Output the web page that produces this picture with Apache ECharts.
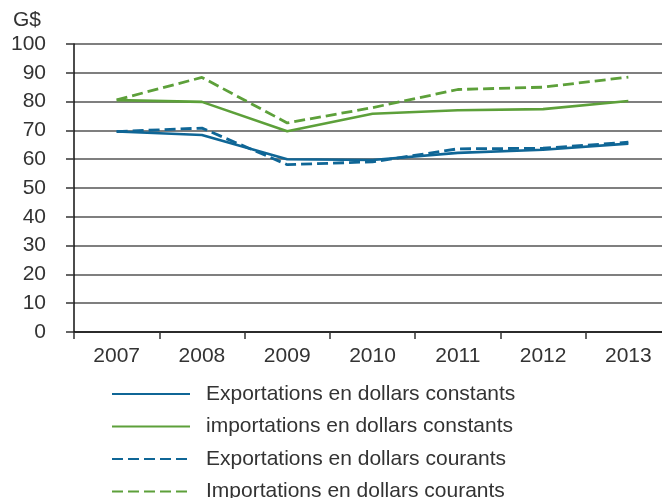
<!DOCTYPE html>
<html><head><meta charset="utf-8">
<script src="https://cdn.jsdelivr.net/npm/echarts@6/dist/echarts.min.js"></script>
<style>html,body{margin:0;padding:0;background:#fff}#c{width:662px;height:498px}</style>
</head><body><div id="c"></div>
<script>
const years = ['2007','2008','2009','2010','2011','2012','2013'];
const exportsConstant = [69.6, 68.4, 60.0, 59.7, 62.2, 63.3, 65.4];
const importsConstant = [80.5, 79.9, 69.7, 75.8, 77.0, 77.4, 80.2];
const exportsCurrent = [69.6, 70.8, 58.1, 59.1, 63.6, 63.8, 65.9];
const importsCurrent = [80.6, 88.4, 72.6, 77.9, 84.2, 85.0, 88.5];
const yTicks = [0,10,20,30,40,50,60,70,80,90,100];
const seriesNames = ['Exportations en dollars constants','importations en dollars constants','Exportations en dollars courants','Importations en dollars courants'];

const BLUE = '#0f6696', GREEN = '#5da03a';
const font = '"Liberation Sans", Arial, sans-serif';
const chart = echarts.init(document.getElementById('c'), null, {renderer:'canvas'});
function mk(name, data, color, dashed){
  return {name, type:'line', data, symbol:'none', animation:false,
    lineStyle:{color, width: dashed ? 2.8 : 2.6, type: dashed ? [11,5] : 'solid'},
    itemStyle:{color}};
}
chart.setOption({
  animation:false,
  textStyle:{fontFamily:font},
  grid:{left:74, top:44, height:288, width:597, outerBoundsMode:'none', containLabel:false},
  graphic:[{type:'text', left:13, top:10, style:{text:'G$', font:'21px '+font, fill:'#333'}}],
  legend:{orient:'vertical', left:111, top:383, height:160, padding:0,
    itemWidth:78, itemHeight:14, itemGap:10.5,
    itemStyle:{opacity:0},
    textStyle:{fontSize:21, lineHeight:22, color:'#333', fontFamily:font, padding:[0,0,0,11]},
    data:seriesNames},
  xAxis:{type:'category', data:years, boundaryGap:true,
    axisLine:{lineStyle:{color:'#111', width:1.5}},
    axisTick:{show:true, length:7, interval:0, lineStyle:{color:'#333', width:1.5}},
    axisLabel:{fontSize:21, color:'#333', margin:14, interval:0}},
  yAxis:{type:'value', min:yTicks[0], max:yTicks[yTicks.length-1], interval:10,
    axisLine:{show:true, lineStyle:{color:'#111', width:1.5}},
    axisTick:{show:true, length:8, lineStyle:{color:'#333', width:1.5}},
    axisLabel:{fontSize:21, color:'#333', margin:28},
    splitLine:{show:true, lineStyle:{color:'#555', width:1.5}}},
  series:[
    mk(seriesNames[0], exportsConstant, BLUE, false),
    mk(seriesNames[1], importsConstant, GREEN, false),
    mk(seriesNames[2], exportsCurrent, BLUE, true),
    mk(seriesNames[3], importsCurrent, GREEN, true)
  ]
});
</script></body></html>
